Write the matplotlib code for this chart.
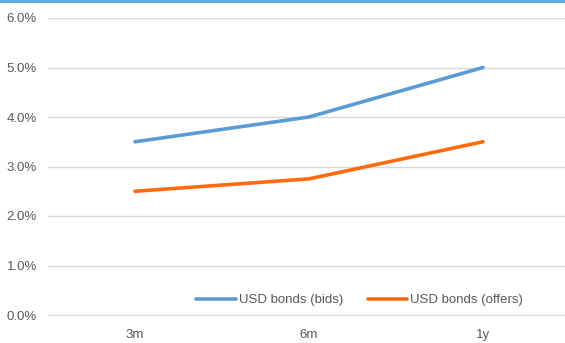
import matplotlib
matplotlib.use("Agg")
import matplotlib.pyplot as plt
from matplotlib.ticker import FuncFormatter

plt.rcParams['font.family'] = ['Liberation Sans', 'DejaVu Sans']

tenors = ['3m', '6m', '1y']
bids = [3.5, 4.0, 5.0]
offers = [2.5, 2.75, 3.5]

fig = plt.figure(figsize=(5.65, 3.43), dpi=100)
ax = fig.add_axes([48 / 565, 28 / 343, 522 / 565, 297 / 343])

x = range(len(tenors))
ax.plot(x, bids, color='#5B9BD5', lw=2.6, solid_capstyle='round', label='USD bonds (bids)')
ax.plot(x, offers, color='#FF6A0E', lw=2.6, solid_capstyle='round', label='USD bonds (offers)')

ax.set_xlim(-0.5, 2.5)
ax.set_ylim(0, 6)
ax.set_yticks([0, 1, 2, 3, 4, 5, 6])
ax.yaxis.set_major_formatter(FuncFormatter(lambda v, p: f'{v:.1f}%'))
ax.set_xticks(list(x))
ax.set_xticklabels(tenors)
ax.grid(axis='y', color='#D9D9D9', lw=1)
ax.set_axisbelow(True)
for s in ['top', 'right', 'left']:
    ax.spines[s].set_visible(False)
ax.spines['bottom'].set_color('#D9D9D9')
ax.tick_params(length=0, colors='#595959', labelsize=9.5)
ax.tick_params(axis='y', pad=8)
ax.tick_params(axis='x', pad=10)

leg = ax.legend(loc='center', bbox_to_anchor=(0.597, 15 / 297), ncol=2, frameon=False,
                fontsize=9.5, handlelength=3.0, handletextpad=0.2, columnspacing=1.9)
for t in leg.get_texts():
    t.set_color('#595959')

# thin blue band along the top edge
fig.add_artist(plt.Line2D([0, 1], [1 - 1 / 343, 1 - 1 / 343], color='#5BA7DE', lw=2,
                          transform=fig.transFigure))

fig.savefig('out.png', dpi=100)
